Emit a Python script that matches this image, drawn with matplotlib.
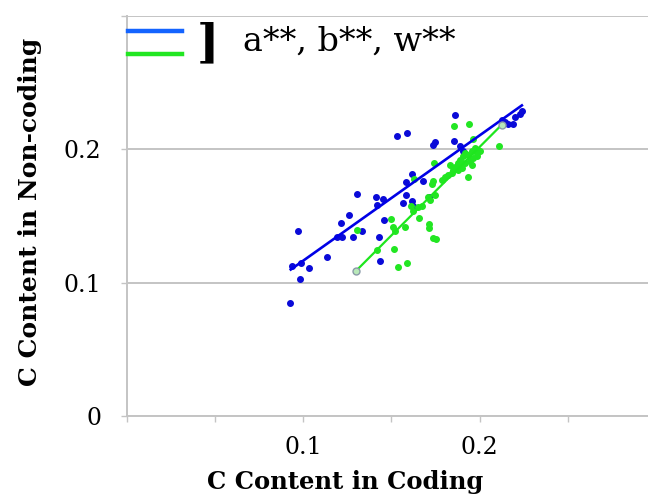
import matplotlib
matplotlib.use("Agg")
import matplotlib.pyplot as plt

# data (C content: coding vs non-coding)
blue_x = [0.1863, 0.1535, 0.1591, 0.1738, 0.1748, 0.1858, 0.1889, 0.1908,
          0.2126, 0.2145, 0.2163, 0.2192, 0.2201, 0.2230, 0.2239, 0.1616,
          0.1582, 0.1681, 0.1582, 0.1712, 0.1304, 0.1413, 0.1451, 0.1421,
          0.1568, 0.1616, 0.1621, 0.1459, 0.1262, 0.1217, 0.1190, 0.1221,
          0.1281, 0.1332, 0.1432, 0.0973, 0.1134, 0.0935, 0.0988, 0.1035,
          0.0985, 0.1436, 0.0926]
blue_y = [0.2255, 0.2103, 0.2123, 0.2030, 0.2053, 0.2065, 0.2028, 0.1985,
          0.2218, 0.2203, 0.2193, 0.2193, 0.2243, 0.2268, 0.2285, 0.1818,
          0.1758, 0.1761, 0.1660, 0.1643, 0.1668, 0.1643, 0.1628, 0.1583,
          0.1598, 0.1610, 0.1578, 0.1473, 0.1505, 0.1448, 0.1347, 0.1347,
          0.1347, 0.1385, 0.1343, 0.1385, 0.1197, 0.1130, 0.1150, 0.1110,
          0.1030, 0.1167, 0.0848]

green_x = [0.1855, 0.1942, 0.1965, 0.2113, 0.1744, 0.1738, 0.1732, 0.1630,
           0.1937, 0.1833, 0.1861, 0.1880, 0.1889, 0.1908, 0.1918, 0.1937,
           0.1956, 0.1975, 0.1984, 0.1993, 0.2003, 0.1918, 0.1899, 0.1880,
           0.1852, 0.1842, 0.1823, 0.1804, 0.1786, 0.1946, 0.1965, 0.1984,
           0.1956, 0.1710, 0.1748, 0.1719, 0.1672, 0.1653, 0.1612, 0.1625,
           0.1657, 0.1497, 0.1511, 0.1521, 0.1578, 0.1712, 0.1715, 0.1738,
           0.1751, 0.1515, 0.1416, 0.1540, 0.1591, 0.1304]
green_y = [0.2173, 0.2193, 0.2077, 0.2023, 0.1898, 0.1765, 0.1739, 0.1782,
           0.1793, 0.1885, 0.1872, 0.1898, 0.1923, 0.1948, 0.1973, 0.1960,
           0.1985, 0.2010, 0.1973, 0.1998, 0.1985, 0.1898, 0.1860, 0.1848,
           0.1848, 0.1823, 0.1810, 0.1793, 0.1773, 0.1910, 0.1935, 0.1948,
           0.1885, 0.1647, 0.1660, 0.1623, 0.1578, 0.1568, 0.1578, 0.1540,
           0.1485, 0.1478, 0.1418, 0.1385, 0.1422, 0.1443, 0.1410, 0.1338,
           0.1328, 0.1253, 0.1244, 0.1122, 0.1148, 0.1394]

# trend lines (end points)
blue_fit_x = [0.093, 0.224]
blue_fit_y = [0.110, 0.233]
green_fit_x = [0.130, 0.2126]
green_fit_y = [0.109, 0.2185]

x_ticks = [0, 0.05, 0.1, 0.15, 0.2, 0.25]
x_labels = ['', '', '0.1', '', '0.2', '']
y_ticks = [0, 0.1, 0.2, 0.3]
y_labels = ['0', '0.1', '0.2', '']

legend_text = 'a**, b**, w**'

serif = ['DejaVu Serif']
grid_col = '#c4c4c4'

fig = plt.figure(figsize=(6.48, 4.98), dpi=100)
ax = fig.add_axes([126.7 / 648, (498 - 416.3) / 498, (648 - 126.7) / 648, 400.3 / 498])
ax.set_xlim(0, 0.2955)
ax.set_ylim(0, 0.3)

ax.grid(axis='y', color=grid_col, linewidth=1.4, zorder=0)
for side in ['top', 'right']:
    ax.spines[side].set_visible(False)
for side in ['left', 'bottom']:
    ax.spines[side].set_color(grid_col)
    ax.spines[side].set_linewidth(1.4)

ax.set_xticks(x_ticks)
ax.set_xticklabels(x_labels)
ax.set_yticks(y_ticks)
ax.set_yticklabels(y_labels)
ax.tick_params(axis='both', colors=grid_col, length=4, width=1, labelcolor='black',
               labelsize=17)
ax.tick_params(axis='x', pad=10)
ax.tick_params(axis='y', pad=14)
for lab in ax.get_xticklabels() + ax.get_yticklabels():
    lab.set_family(serif)

ax.plot(blue_x, blue_y, 'o', color='#0a0ad8', markersize=4, zorder=3)
ax.plot(green_x, green_y, 'o', color='#22e622', markersize=4, zorder=3)
ax.plot(blue_fit_x, blue_fit_y, color='#0000e6', linewidth=1.9, zorder=4)
ax.plot(green_fit_x, green_fit_y, color='#1ee61e', linewidth=1.6, zorder=4)
ax.plot(green_fit_x, green_fit_y, 'o', markersize=5, markerfacecolor='#b8e8b8',
        markeredgecolor='#8a9aa8', markeredgewidth=1, linestyle='none', zorder=5)

# legend drawn by hand
fig.add_artist(plt.Line2D([128 / 648, 182 / 648], [1 - 31 / 498, 1 - 31 / 498],
                          color='#1464ff', linewidth=3.2))
fig.add_artist(plt.Line2D([128 / 648, 182 / 648], [1 - 54 / 498, 1 - 54 / 498],
                          color='#22e622', linewidth=3.2))
fig.text(208 / 648, 1 - 44 / 498, ']', fontsize=34, fontweight='bold',
         family=serif, ha='center', va='center')
fig.text(243 / 648, 1 - 42 / 498, legend_text, fontsize=24, family=serif,
         ha='left', va='center')

fig.text(345 / 648, 1 - 482 / 498, 'C Content in Coding', fontsize=17.5,
         fontweight='bold', family=serif, ha='center', va='center')
fig.text(30 / 648, 1 - 212 / 498, 'C Content in Non-coding', fontsize=18,
         fontweight='bold', family=serif, ha='center', va='center', rotation=90)

fig.savefig('out.png', dpi=100)
